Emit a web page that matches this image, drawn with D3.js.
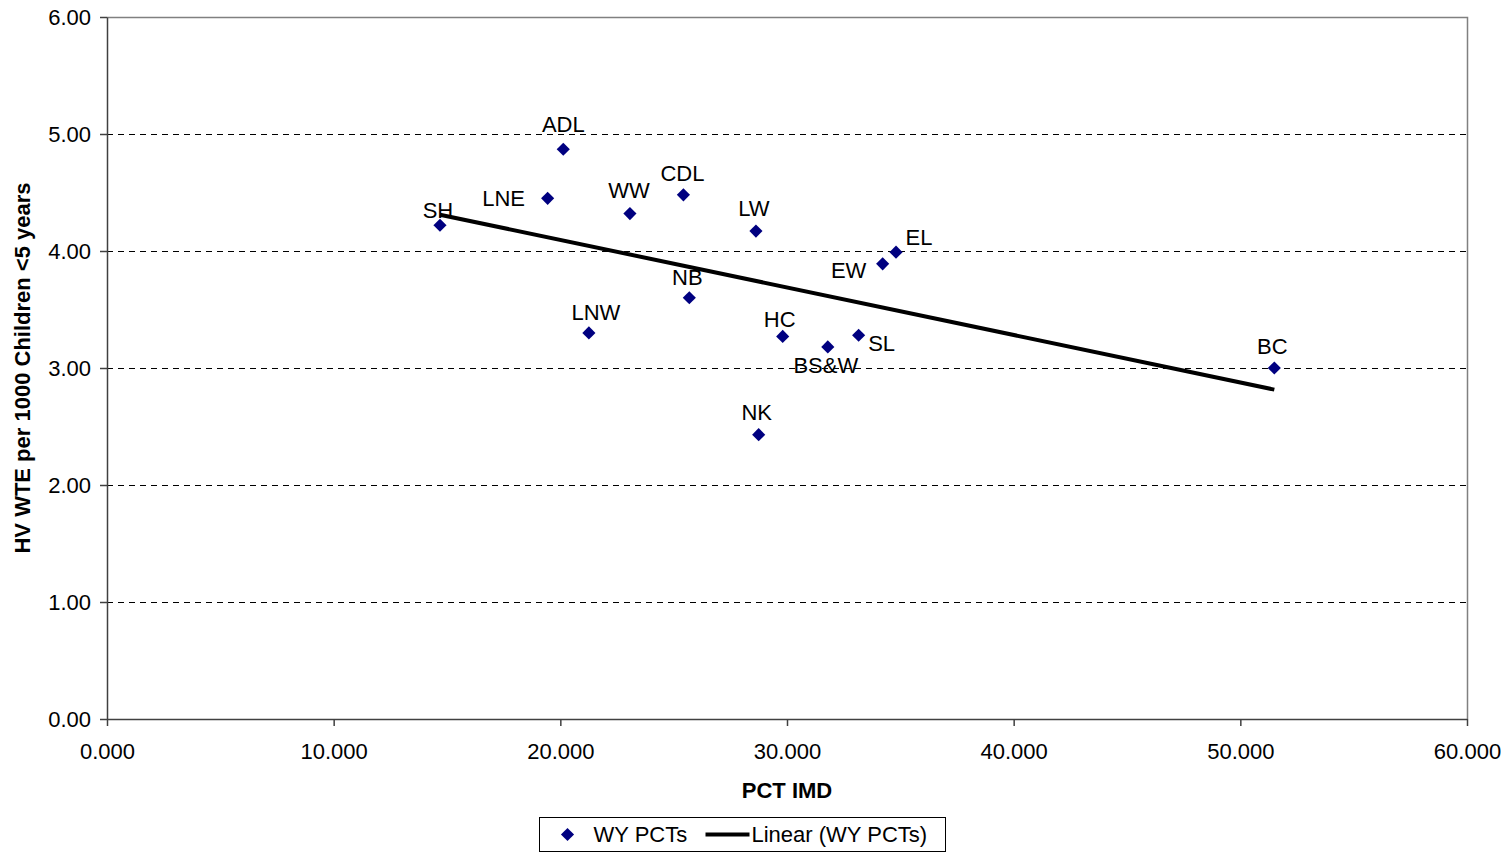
<!DOCTYPE html>
<html>
<head>
<meta charset="utf-8">
<script src="https://cdn.jsdelivr.net/npm/d3@7"></script>
<style>
  body { margin: 0; background: #fff; }
  svg text { font-family: "Liberation Sans", Arial, sans-serif; fill: #000; }
</style>
</head>
<body>
<div id="chart"></div>
<script>
// PCT data
var pcts = ['SH', 'ADL', 'LNE', 'WW', 'CDL', 'LW', 'NB', 'LNW', 'HC', 'EL', 'EW', 'SL', 'BS&W', 'NK', 'BC'];
var imd = [14.69, 20.13, 19.44, 23.07, 25.43, 28.63, 25.69, 21.26, 29.81, 34.81, 34.22, 33.16, 31.80, 28.75, 51.50];
var hvWte = [4.22, 4.87, 4.45, 4.32, 4.48, 4.17, 3.60, 3.30, 3.27, 3.99, 3.89, 3.28, 3.18, 2.43, 3.00];
var xTicks = [0, 10, 20, 30, 40, 50, 60];
var yTicks = [0, 1, 2, 3, 4, 5, 6];

// label offsets relative to the point (layout only)
var labelOffset = {
    'SH': [-2, -15], 'ADL': [0, -25], 'LNE': [-44, 0], 'WW': [-1, -23], 'CDL': [-1, -22],
    'LW': [-2, -23], 'NB': [-2, -21], 'LNW': [7, -21], 'HC': [-3, -17], 'EL': [23, -15],
    'EW': [-34, 6], 'SL': [23, 8], 'BS&W': [-2, 18], 'NK': [-2, -22], 'BC': [-2, -22]
};

var fontSize = "22px";

var data = pcts.map(function (d, i) {
    return { name: d, x: imd[i], y: hvWte[i] };
});

var margin = { top: 17, right: 43, bottom: 133, left: 107 },
    width = 1510 - margin.left - margin.right,
    height = 852 - margin.top - margin.bottom;

var svg = d3.select("#chart").append("svg")
    .attr("width", 1510)
    .attr("height", 852);
var g = svg.append("g")
    .attr("transform", "translate(" + margin.left + "," + margin.top + ")");

var x = d3.scaleLinear().domain([0, 60]).range([0, width]);
var y = d3.scaleLinear().domain([0, 6]).range([height, 0]);

// gridlines
g.selectAll(".grid")
    .data(yTicks.filter(function (t) { return t > 0 && t < 6; }))
    .enter().append("line")
    .attr("x1", 0).attr("x2", width)
    .attr("y1", function (d) { return y(d); })
    .attr("y2", function (d) { return y(d); })
    .attr("stroke", "#000")
    .attr("stroke-width", 1)
    .attr("stroke-dasharray", "6,5")
    .attr("shape-rendering", "crispEdges");

// plot border (top / right)
g.append("path")
    .attr("d", "M0,0.5H" + (width + 0.5) + "V" + height)
    .attr("fill", "none")
    .attr("stroke", "#808080")
    .attr("stroke-width", 1.5);

// axes
var xAxis = d3.axisBottom(x).tickValues(xTicks).tickSize(7).tickSizeOuter(0)
    .tickFormat(d3.format(".3f"));
var yAxis = d3.axisLeft(y).tickValues(yTicks).tickSize(7).tickSizeOuter(0)
    .tickFormat(d3.format(".2f"));

var gx = g.append("g")
    .attr("transform", "translate(0," + height + ")")
    .call(xAxis);
var gy = g.append("g").call(yAxis);
[gx, gy].forEach(function (a) {
    a.select(".domain").attr("stroke", "#404040").attr("stroke-width", 1.5);
    a.selectAll(".tick line").attr("stroke", "#404040").attr("stroke-width", 1.5);
    a.selectAll(".tick text").style("font-size", fontSize)
        .style("font-family", '"Liberation Sans", Arial, sans-serif').attr("fill", "#000");
});
gx.selectAll(".tick text").attr("dy", "0").attr("y", 40);
gy.selectAll(".tick text").attr("x", -16).attr("dy", "0.35em");

// axis titles
svg.append("text")
    .attr("x", margin.left + width / 2)
    .attr("y", 798)
    .attr("text-anchor", "middle")
    .style("font-size", fontSize)
    .style("font-weight", "bold")
    .text("PCT IMD");
svg.append("text")
    .attr("transform", "translate(30," + (margin.top + height / 2) + ") rotate(-90)")
    .attr("text-anchor", "middle")
    .style("font-size", fontSize)
    .style("font-weight", "bold")
    .text("HV WTE per 1000 Children <5 years");

// linear trendline (least squares)
var mx = d3.mean(imd), my = d3.mean(hvWte);
var sxy = d3.sum(imd, function (v, i) { return (v - mx) * (hvWte[i] - my); });
var sxx = d3.sum(imd, function (v) { return (v - mx) * (v - mx); });
var slope = sxy / sxx, intercept = my - slope * mx;
var xr = d3.extent(imd);
g.append("line")
    .attr("x1", x(xr[0])).attr("y1", y(intercept + slope * xr[0]))
    .attr("x2", x(xr[1])).attr("y2", y(intercept + slope * xr[1]))
    .attr("stroke", "#000")
    .attr("stroke-width", 4);

// points
var diamond = d3.symbol().type(d3.symbolDiamond2).size(110);
g.selectAll(".dot")
    .data(data)
    .enter().append("path")
    .attr("class", "dot")
    .attr("d", diamond)
    .attr("transform", function (d) { return "translate(" + x(d.x) + "," + y(d.y) + ")"; })
    .attr("fill", "#000080");

// data labels
g.selectAll(".labels")
    .data(data)
    .enter().append("text")
    .attr("class", "labels")
    .attr("x", function (d) { return x(d.x) + labelOffset[d.name][0]; })
    .attr("y", function (d) { return y(d.y) + labelOffset[d.name][1]; })
    .attr("dy", "0.35em")
    .attr("text-anchor", "middle")
    .style("font-size", fontSize)
    .text(function (d) { return d.name; });

// legend
var legend = svg.append("g").attr("transform", "translate(539.5,817.5)");
legend.append("rect")
    .attr("width", 406).attr("height", 34)
    .attr("fill", "#fff").attr("stroke", "#000").attr("stroke-width", 1);
legend.append("path")
    .attr("d", diamond)
    .attr("transform", "translate(28,17)")
    .attr("fill", "#000080");
legend.append("text").attr("x", 54).attr("y", 17).attr("dy", "0.35em")
    .style("font-size", fontSize).text("WY PCTs");
legend.append("line")
    .attr("x1", 166).attr("x2", 210).attr("y1", 17).attr("y2", 17)
    .attr("stroke", "#000").attr("stroke-width", 4);
legend.append("text").attr("x", 212).attr("y", 17).attr("dy", "0.35em")
    .style("font-size", fontSize).text("Linear (WY PCTs)");
</script>
</body>
</html>
